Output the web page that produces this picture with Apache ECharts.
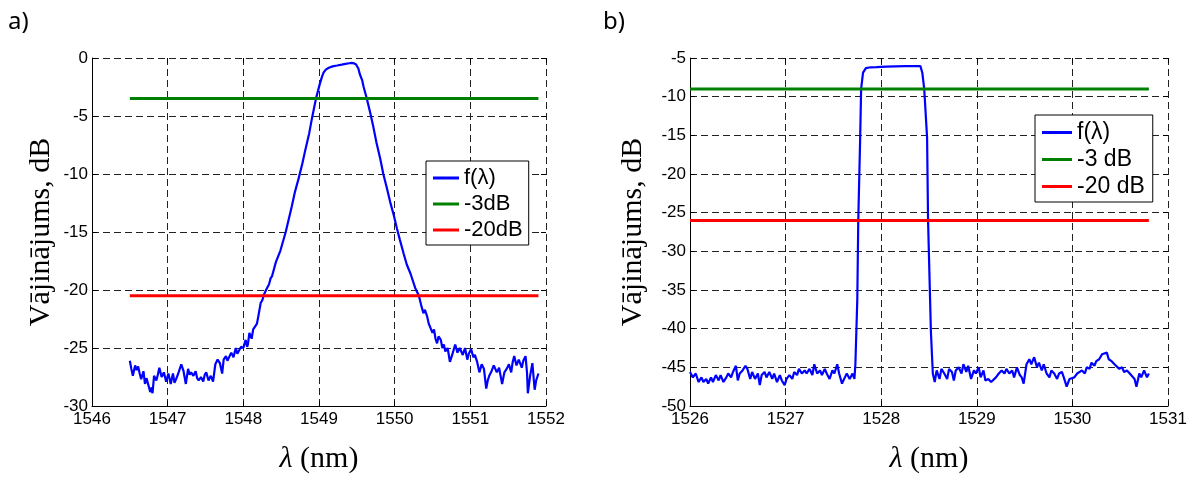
<!DOCTYPE html>
<html>
<head>
<meta charset="utf-8">
<script src="https://cdn.jsdelivr.net/npm/echarts@6/dist/echarts.min.js"></script>
<style>
html,body{margin:0;padding:0;background:#fff;}
#chart{width:1194px;height:479px;}
</style>
</head>
<body>
<div id="chart"></div>
<script>
// ---------- DATA ----------
// Panel a): measured transmission [wavelength nm, dB]
const curveA = [
[1546.50,-26.1],[1546.52,-26.8],[1546.54,-27.4],[1546.57,-26.5],[1546.59,-26.9],[1546.61,-26.6],[1546.63,-27.2],[1546.65,-27.7],
[1546.68,-27.0],[1546.70,-28.1],[1546.72,-27.6],[1546.74,-27.5],[1546.77,-28.8],[1546.79,-28.4],[1546.80,-28.9],[1546.82,-27.4],
[1546.85,-27.8],[1546.87,-27.3],[1546.89,-26.7],[1546.92,-27.5],[1546.95,-27.1],[1546.98,-27.9],[1547.01,-27.2],[1547.04,-28.1],
[1547.07,-27.2],[1547.09,-28.0],[1547.11,-27.7],[1547.14,-27.2],[1547.16,-26.8],[1547.18,-26.4],[1547.21,-27.0],[1547.24,-28.1],
[1547.27,-26.8],[1547.29,-27.3],[1547.31,-27.1],[1547.34,-27.4],[1547.37,-27.0],[1547.39,-27.6],[1547.41,-27.8],[1547.44,-27.5],
[1547.47,-27.9],[1547.49,-27.3],[1547.51,-27.1],[1547.54,-27.8],[1547.57,-27.4],[1547.60,-27.9],[1547.63,-26.4],[1547.66,-26.0],
[1547.69,-26.3],[1547.72,-27.2],[1547.74,-26.0],[1547.77,-25.7],[1547.79,-26.1],[1547.81,-26.0],[1547.84,-25.4],[1547.87,-25.8],
[1547.90,-25.0],[1547.92,-25.5],[1547.94,-25.6],[1547.97,-24.9],[1548.00,-25.0],[1548.03,-24.3],[1548.05,-24.9],[1548.06,-24.7],
[1548.08,-23.7],[1548.11,-24.2],[1548.13,-23.4],[1548.15,-23.2],[1548.18,-22.9],[1548.20,-22.2],[1548.23,-21.1],[1548.25,-20.9],
[1548.27,-20.45],[1548.30,-20.0],[1548.34,-19.5],[1548.36,-19.0],[1548.38,-18.8],[1548.43,-17.6],[1548.49,-16.6],[1548.56,-15.0],
[1548.60,-13.9],[1548.64,-12.8],[1548.68,-11.6],[1548.73,-10.4],[1548.78,-9.1],[1548.82,-7.9],[1548.87,-6.5],[1548.91,-5.1],
[1548.96,-3.5],[1549.01,-2.25],[1549.04,-1.6],[1549.06,-1.26],[1549.09,-1.0],[1549.13,-0.84],[1549.18,-0.72],[1549.24,-0.65],
[1549.30,-0.57],[1549.35,-0.5],[1549.40,-0.45],[1549.43,-0.42],[1549.46,-0.46],[1549.49,-0.56],[1549.52,-0.9],[1549.54,-1.4],
[1549.57,-1.9],[1549.59,-2.5],[1549.63,-3.45],[1549.68,-4.8],[1549.72,-6.0],[1549.76,-7.3],[1549.81,-8.7],[1549.85,-10.0],
[1549.90,-11.3],[1549.94,-12.4],[1549.99,-13.6],[1550.03,-14.7],[1550.07,-15.7],[1550.12,-16.9],[1550.16,-17.8],[1550.21,-18.6],
[1550.27,-19.8],[1550.32,-20.5],[1550.35,-21.3],[1550.38,-22.0],[1550.40,-21.7],[1550.43,-22.3],[1550.45,-22.9],[1550.47,-22.8],
[1550.50,-23.7],[1550.52,-23.4],[1550.54,-24.2],[1550.56,-24.6],[1550.58,-24.0],[1550.61,-24.3],[1550.63,-25.0],[1550.65,-24.7],
[1550.67,-25.3],[1550.70,-25.0],[1550.73,-26.2],[1550.76,-25.6],[1550.80,-24.7],[1550.83,-25.4],[1550.86,-25.0],[1550.88,-25.3],
[1550.90,-25.6],[1550.93,-25.0],[1550.96,-26.0],[1550.98,-25.5],[1551.01,-25.1],[1551.04,-25.8],[1551.06,-25.6],[1551.09,-26.2],
[1551.12,-27.1],[1551.15,-26.4],[1551.18,-26.8],[1551.21,-28.5],[1551.23,-27.8],[1551.25,-27.4],[1551.28,-27.0],[1551.31,-26.5],
[1551.35,-27.1],[1551.38,-26.7],[1551.40,-27.4],[1551.42,-28.1],[1551.45,-27.1],[1551.48,-26.8],[1551.51,-26.4],[1551.54,-27.1],
[1551.56,-26.2],[1551.58,-25.7],[1551.61,-26.5],[1551.64,-26.0],[1551.68,-26.7],[1551.70,-26.1],[1551.73,-25.7],[1551.75,-27.2],
[1551.76,-28.9],[1551.79,-27.4],[1551.82,-26.3],[1551.85,-28.6],[1551.87,-27.8],[1551.90,-27.2]
];
const spanA = [1546.5, 1551.9];
const level3A = -3.5;
const level20A = -20.5;
const namesA = ['f(\u03bb)', '-3dB', '-20dB'];

// Panel b): measured transmission [wavelength nm, dB]
const curveB = [
[1526.00,-45.6],[1526.02,-45.4],[1526.03,-46.3],[1526.06,-45.8],[1526.09,-46.9],[1526.12,-46.3],[1526.14,-46.9],[1526.17,-46.5],
[1526.19,-47.1],[1526.22,-46.3],[1526.24,-46.9],[1526.27,-46.0],[1526.30,-46.7],[1526.32,-46.0],[1526.35,-46.9],[1526.38,-46.3],
[1526.40,-45.8],[1526.43,-46.3],[1526.45,-45.6],[1526.48,-44.8],[1526.50,-46.7],[1526.52,-45.8],[1526.55,-45.4],[1526.58,-44.8],
[1526.60,-45.2],[1526.63,-46.5],[1526.65,-45.6],[1526.68,-46.5],[1526.71,-45.8],[1526.73,-47.3],[1526.75,-46.0],[1526.78,-45.6],
[1526.80,-46.3],[1526.83,-45.6],[1526.86,-46.5],[1526.88,-45.8],[1526.91,-46.9],[1526.94,-46.0],[1526.96,-46.7],[1526.99,-47.3],
[1527.01,-46.5],[1527.04,-46.0],[1527.07,-46.5],[1527.09,-45.6],[1527.12,-46.0],[1527.14,-45.2],[1527.17,-45.8],[1527.20,-45.4],
[1527.22,-45.8],[1527.25,-45.2],[1527.28,-46.0],[1527.30,-44.6],[1527.33,-45.8],[1527.36,-45.4],[1527.38,-46.0],[1527.41,-45.2],
[1527.43,-45.8],[1527.46,-46.5],[1527.49,-45.4],[1527.51,-45.8],[1527.54,-44.6],[1527.56,-45.8],[1527.59,-47.1],[1527.62,-46.3],
[1527.64,-45.8],[1527.67,-46.5],[1527.70,-45.8],[1527.72,-46.5],[1527.73,-44.6],[1527.75,-36.2],[1527.76,-26.1],[1527.78,-15.3],
[1527.79,-9.0],[1527.81,-6.9],[1527.84,-6.3],[1527.89,-6.2],[1527.95,-6.18],[1528.05,-6.12],[1528.15,-6.08],[1528.25,-6.06],
[1528.35,-6.05],[1528.41,-6.05],[1528.43,-6.9],[1528.45,-9.0],[1528.48,-15.3],[1528.49,-25.9],[1528.52,-40.4],[1528.54,-45.8],
[1528.56,-46.9],[1528.58,-45.4],[1528.61,-46.5],[1528.63,-45.2],[1528.66,-45.8],[1528.69,-46.5],[1528.71,-45.2],[1528.74,-45.6],
[1528.76,-46.7],[1528.78,-45.4],[1528.81,-45.0],[1528.84,-45.8],[1528.86,-44.6],[1528.89,-45.6],[1528.91,-44.8],[1528.94,-46.5],
[1528.97,-45.4],[1528.99,-45.8],[1529.02,-45.0],[1529.04,-46.3],[1529.07,-45.4],[1529.09,-46.7],[1529.12,-46.5],[1529.15,-46.9],
[1529.17,-46.7],[1529.20,-46.3],[1529.23,-45.8],[1529.26,-45.4],[1529.29,-45.8],[1529.31,-45.2],[1529.34,-45.8],[1529.37,-45.4],
[1529.39,-46.3],[1529.42,-45.0],[1529.45,-46.0],[1529.47,-46.3],[1529.49,-47.1],[1529.52,-44.6],[1529.55,-43.95],[1529.57,-44.6],
[1529.60,-43.7],[1529.63,-45.0],[1529.65,-44.4],[1529.68,-45.4],[1529.70,-44.6],[1529.73,-45.8],[1529.76,-46.3],[1529.78,-45.4],
[1529.81,-45.8],[1529.84,-46.5],[1529.86,-45.8],[1529.89,-45.6],[1529.91,-46.3],[1529.94,-47.5],[1529.97,-46.5],[1529.99,-46.7],
[1530.02,-46.3],[1530.05,-45.8],[1530.07,-46.0],[1530.10,-45.4],[1530.13,-45.8],[1530.15,-45.0],[1530.18,-45.2],[1530.20,-44.4],
[1530.23,-44.8],[1530.25,-44.2],[1530.28,-43.95],[1530.31,-43.3],[1530.33,-43.5],[1530.36,-43.1],[1530.38,-43.95],[1530.41,-44.2],
[1530.44,-44.6],[1530.46,-44.8],[1530.49,-45.2],[1530.52,-45.0],[1530.54,-45.6],[1530.57,-45.4],[1530.60,-45.8],[1530.62,-45.6],
[1530.65,-46.5],[1530.67,-47.5],[1530.70,-45.8],[1530.72,-46.3],[1530.75,-45.4],[1530.78,-46.3],[1530.80,-45.8]
];
const spanB = [1526.0, 1530.8];
const level3B = -9;
const level20B = -26;
const namesB = ['f(\u03bb)', '-3 dB', '-20 dB'];

const axisA = { xMin: 1546, xMax: 1552, xStep: 1, yMin: -30, yMax: 0, yStep: 5 };
const axisB = { xMin: 1526, xMax: 1531, xStep: 1, yMin: -50, yMax: -5, yStep: 5 };
const yTitle = 'Vājinājums, dB';
const xTitle = '{i|\u03bb} (nm)';

// ---------- STYLE ----------
const SANS = "'Liberation Sans', Arial, sans-serif";
const SERIF = "'Liberation Serif', 'Times New Roman', serif";
const tickFont = { color: '#000', fontFamily: SANS, fontSize: 17 };
const titleFont = { color: '#000', fontFamily: SERIF, fontSize: 30 };
const gridLine = { show: true, lineStyle: { color: '#222', width: 1, type: [7, 4] } };

function mainX(ax, gi) {
  return {
    type: 'value', gridIndex: gi, position: 'bottom', min: ax.xMin, max: ax.xMax, interval: ax.xStep,
    axisLine: { show: true, onZero: false, lineStyle: { color: '#000', width: 1 } },
    axisTick: { show: true, inside: true, length: 5, lineStyle: { color: '#000' } },
    axisLabel: Object.assign({ margin: 5, formatter: v => String(v) }, tickFont),
    splitLine: gridLine,
    name: xTitle, nameLocation: 'middle', nameGap: 38,
    nameTextStyle: Object.assign({ rich: { i: Object.assign({ fontStyle: 'italic' }, titleFont) } }, titleFont)
  };
}
function topX(ax, gi) {
  return {
    type: 'value', gridIndex: gi, position: 'top', min: ax.xMin, max: ax.xMax, interval: ax.xStep,
    axisLine: { show: false, onZero: false },
    axisTick: { show: true, inside: true, length: 5, lineStyle: { color: '#000' } },
    axisLabel: { show: false }, splitLine: { show: false }
  };
}
function mainY(ax, gi, gap) {
  return {
    type: 'value', gridIndex: gi, position: 'left', min: ax.yMin, max: ax.yMax, interval: ax.yStep,
    axisLine: { show: true, onZero: false, lineStyle: { color: '#000', width: 1 } },
    axisTick: { show: true, inside: true, length: 5, lineStyle: { color: '#000' } },
    axisLabel: Object.assign({ margin: 4, formatter: v => String(v) }, tickFont),
    splitLine: gridLine,
    name: yTitle, nameLocation: 'middle', nameGap: gap, nameRotate: 90,
    nameTextStyle: titleFont
  };
}
function rightY(ax, gi) {
  return {
    type: 'value', gridIndex: gi, position: 'right', min: ax.yMin, max: ax.yMax, interval: ax.yStep,
    axisLine: { show: false, onZero: false },
    axisTick: { show: true, inside: true, length: 5, lineStyle: { color: '#000' } },
    axisLabel: { show: false }, splitLine: { show: false }
  };
}
function lineSeries(name, data, color, width, xi, yi) {
  return {
    type: 'line', name: name, data: data, xAxisIndex: xi, yAxisIndex: yi,
    showSymbol: false, symbol: 'none', animation: false, silent: true,
    lineStyle: { color: color, width: width }, itemStyle: { color: color }
  };
}
const BLUE = '#0000ff', GREEN = '#008000', RED = '#ff0000';
const legendCommon = {
  orient: 'vertical', selectedMode: false, backgroundColor: '#fff', borderColor: '#000', borderWidth: 1,
  itemWidth: 26, itemHeight: 3, itemGap: 4,
  textStyle: { color: '#000', fontFamily: SANS, fontSize: 22 }
};

const option = {
  backgroundColor: '#fff',
  animation: false,
  grid: [
    { left: 92, top: 58, width: 454, height: 357 },
    { left: 690, top: 58, width: 478, height: 358 }
  ],
  xAxis: [ mainX(axisA, 0), topX(axisA, 0), mainX(axisB, 1), topX(axisB, 1) ],
  yAxis: [ mainY(axisA, 0, 36), rightY(axisA, 0), mainY(axisB, 1, 42), rightY(axisB, 1) ],
  legend: [
    Object.assign({}, legendCommon, {
      left: 426, top: 161, padding: [6, 6, 4, 7],
      data: namesA.map(n => ({ name: n, icon: 'rect' }))
    }),
    Object.assign({}, legendCommon, {
      left: 1035, top: 115, padding: [6, 8, 4, 7], itemWidth: 30,
      textStyle: { color: '#000', fontFamily: SANS, fontSize: 23 },
      data: namesB.map(n => ({ name: n, icon: 'rect' }))
    })
  ],
  graphic: [
    { type: 'text', left: 8, top: 10, style: { text: 'a)', fontSize: 24, fontFamily: "'Noto Sans', sans-serif", fill: '#000' } },
    { type: 'text', left: 603, top: 10, style: { text: 'b)', fontSize: 24, fontFamily: "'Noto Sans', sans-serif", fill: '#000' } }
  ],
  series: [
    lineSeries(namesA[0], curveA, BLUE, 2.2, 0, 0),
    lineSeries(namesA[1], [[spanA[0], level3A], [spanA[1], level3A]], GREEN, 3, 0, 0),
    lineSeries(namesA[2], [[spanA[0], level20A], [spanA[1], level20A]], RED, 3, 0, 0),
    lineSeries(namesB[0], curveB, BLUE, 2.2, 2, 2),
    lineSeries(namesB[1], [[spanB[0], level3B], [spanB[1], level3B]], GREEN, 3, 2, 2),
    lineSeries(namesB[2], [[spanB[0], level20B], [spanB[1], level20B]], RED, 3, 2, 2)
  ]
};
const chart = echarts.init(document.getElementById('chart'), null, { renderer: 'canvas' });
chart.setOption(option);
</script>
</body>
</html>
